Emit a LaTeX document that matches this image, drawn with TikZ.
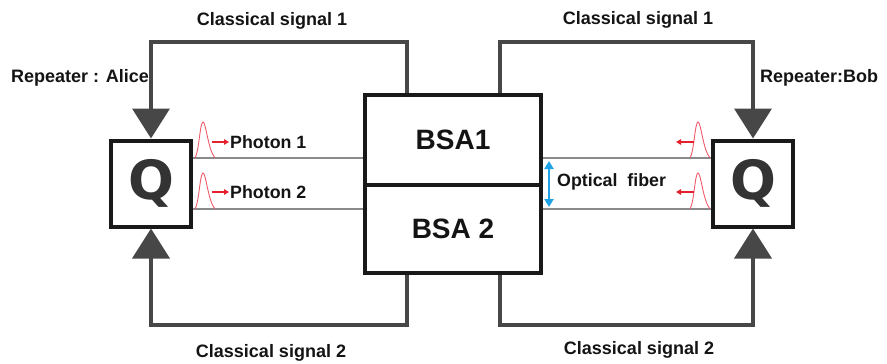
\documentclass[tikz,border=0pt]{standalone}
\usepackage{fontspec}
\setmainfont{Liberation Sans}
\newfontfamily\qfont{DejaVu Sans}
\usetikzlibrary{arrows.meta}
\definecolor{conncol}{HTML}{474747}
\definecolor{fibercol}{HTML}{8A8A8A}
\definecolor{redcol}{HTML}{E3202B}
\definecolor{pulsecol}{HTML}{EE5A6A}
\definecolor{bluecol}{HTML}{1FA2E6}
\definecolor{txtcol}{HTML}{141414}
\tikzset{
  lbl/.style={font=\fontsize{18}{20}\selectfont\bfseries, text=txtcol, inner sep=0pt},
  smalllbl/.style={font=\fontsize{17.8}{19}\selectfont\bfseries, text=txtcol, inner sep=0pt},
  qbox/.style={draw=black!90, line width=4pt, minimum width=80pt, minimum height=86pt, inner sep=0pt,
    font=\fontsize{54}{54}\qfont\bfseries, text=black!80},
  bsabox/.style={draw=black!90, line width=4pt, minimum width=176pt, inner sep=0pt,
    font=\fontsize{28}{30}\selectfont\bfseries, text=txtcol},
  conn/.style={draw=conncol, line width=4pt, -{Triangle[width=37pt,length=30pt]}},
  fiber/.style={draw=fibercol, line width=1.3pt},
  redarrow/.style={draw=redcol, line width=1.8pt, -{Triangle[width=5.5pt,length=5pt]}},
  bluearrow/.style={draw=bluecol, line width=2pt, {Triangle[width=9pt,length=8pt]}-{Triangle[width=9pt,length=8pt]}},
  pulse/.pic={\draw[pulsecol, line width=0.9pt] (0,0) .. controls (4,-6) and (5,-36) .. (8,-36) .. controls (11,-36) and (13,-8) .. (20,0);}
}
\begin{document}
\begin{tikzpicture}[x=1pt,y=-1pt]
\useasboundingbox (0,0) rectangle (887,364);
% nodes
\node[qbox] (QA) at (151,183.5) {Q};
\node[qbox] (QB) at (753,183.5) {Q};
\node[bsabox, minimum height=90pt] (B1) at (453,140) {BSA1};
\node[bsabox, minimum height=88pt] (B2) at (453,229) {BSA 2};
% helper coordinates
\coordinate (t1) at (407,42);
\coordinate (t2) at (500,42);
\coordinate (b1) at (407,325);
\coordinate (b2) at (500,325);
\coordinate (f1) at (0,158);
\coordinate (f2) at (0,209);
% fibers
\draw[fiber] (QA.east |- f1) -- (B1.west |- f1);
\draw[fiber] (QA.east |- f2) -- (B2.west |- f2);
\draw[fiber] (B1.east |- f1) -- (QB.west |- f1);
\draw[fiber] (B2.east |- f2) -- (QB.west |- f2);
% classical connectors
\draw[conn] (B1.north -| t1) -- (t1) -| (QA.north);
\draw[conn] (B1.north -| t2) -- (t2) -| (QB.north);
\draw[conn] (B2.south -| b1) -- (b1) -| (QA.south);
\draw[conn] (B2.south -| b2) -- (b2) -| (QB.south);
% pulses
\pic at (195,158) {pulse};
\pic at (195,209) {pulse};
\pic at (690,158) {pulse};
\pic at (690,209) {pulse};
\coordinate (ra1) at (212,142); \coordinate (ra1e) at (229,142);
\coordinate (ra2) at (212,192); \coordinate (ra2e) at (229,192);
\coordinate (rb1) at (694,142); \coordinate (rb1e) at (676,142);
\coordinate (rb2) at (694,192); \coordinate (rb2e) at (676,192);
\draw[redarrow] (ra1) -- (ra1e);
\draw[redarrow] (ra2) -- (ra2e);
\draw[redarrow] (rb1) -- (rb1e);
\draw[redarrow] (rb2) -- (rb2e);
% optical fiber arrow
\coordinate (oa) at (549,161);
\coordinate (ob) at (549,207);
\draw[bluearrow] (oa) -- (ob);
% labels
\node[smalllbl, anchor=west] (p1) at (230,142) {Photon 1};
\node[smalllbl, anchor=west] (p2) at (230,192) {Photon 2};
\node[smalllbl, anchor=west] (of) at (557,182) {Optical\ \ fiber};
\node[lbl] (cs1a) at (272,21) {Classical signal 1};
\node[lbl] (cs1b) at (638,20) {Classical signal 1};
\node[lbl] (cs2a) at (271,353) {Classical signal 2};
\node[lbl] (cs2b) at (639,350) {Classical signal 2};
\node[lbl, anchor=west] (ra) at (11,78) {Repeater : Alice};
\node[lbl, anchor=west] (rb) at (760,78) {Repeater:Bob};
\end{tikzpicture}
\end{document}
